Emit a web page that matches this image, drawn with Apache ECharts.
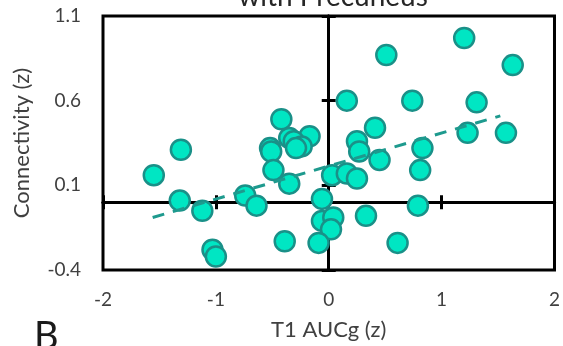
<!DOCTYPE html>
<html>
<head>
<meta charset="utf-8">
<script src="https://cdn.jsdelivr.net/npm/echarts@6/dist/echarts.min.js"></script>
<style>
html,body{margin:0;padding:0;background:#fff;}
#chart{width:563px;height:346px;}
</style>
</head>
<body>
<div id="chart"></div>
<script>
var titleText = 'with Precuneus';
var panelLabel = 'B';
var xName = 'T1 AUCg (z)';
var yName = 'Connectivity (z)';
var xTicks = [-2, -1, 0, 1, 2];
var yTicks = [-0.4, 0.1, 0.6, 1.1];

var auc = [1.20, 0.51, 1.63, 0.16, 0.74, 1.31, -0.42, 0.41, 1.23, 1.57,
           -0.17, -0.35, -0.31, -0.24, -0.29, 0.25, 0.27, 0.83, -1.31, -0.52,
           -0.51, -0.49, 0.45, 0.81, 0.03, 0.16, 0.25, -0.35, -1.55, -1.32,
           -1.12, -0.74, -0.64, -0.06, 0.79, 0.33, -0.06, 0.04, 0.02, -0.39,
           -0.09, 0.61, -1.03, -1.00];
var conn = [0.97, 0.87, 0.81, 0.60, 0.60, 0.59, 0.49, 0.44, 0.41, 0.41,
            0.39, 0.38, 0.36, 0.33, 0.32, 0.36, 0.30, 0.32, 0.31, 0.32,
            0.30, 0.19, 0.25, 0.19, 0.16, 0.17, 0.14, 0.11, 0.16, 0.01,
            -0.05, 0.04, -0.02, 0.02, -0.02, -0.08, -0.11, -0.09, -0.16, -0.23,
            -0.24, -0.24, -0.28, -0.32];
var trendX = [-1.56, 1.52];
var trendY = [-0.09, 0.51];

var pts = auc.map(function (v, i) { return [v, conn[i]]; });
var trend = trendX.map(function (v, i) { return [v, trendY[i]]; });

var FONT = 'Lato, "Open Sans", sans-serif';
var xMin = xTicks[0], xMax = xTicks[xTicks.length - 1];
var yMin = yTicks[0], yMax = yTicks[yTicks.length - 1];

function crossAxis(dim, inside) {
  var a = {
    type: 'value', min: dim === 'x' ? xMin : yMin, max: dim === 'x' ? xMax : yMax,
    interval: dim === 'x' ? 1 : 0.5,
    axisLine: { show: true, onZero: true, onZeroAxisIndex: 0, lineStyle: { color: '#000', width: 3 } },
    axisTick: { show: true, inside: inside, length: 7, lineStyle: { color: '#000', width: 3 } },
    axisLabel: { show: false },
    splitLine: { show: false }
  };
  a.position = dim === 'x' ? 'bottom' : 'left';
  return a;
}

var chart = echarts.init(document.getElementById('chart'), null, { renderer: 'canvas' });
chart.setOption({
  animation: false,
  backgroundColor: '#fff',
  grid: { left: 103, right: 8, top: 16, bottom: 75, show: true, borderColor: '#000', borderWidth: 3, backgroundColor: 'transparent' },
  xAxis: [
    {
      type: 'value', min: xMin, max: xMax, interval: 1, position: 'bottom',
      name: xName, nameLocation: 'middle', nameGap: 49,
      nameTextStyle: { fontFamily: FONT, fontSize: 22, color: '#404040' },
      axisLine: { show: false, onZero: false },
      axisTick: { show: false },
      axisLabel: { fontFamily: FONT, fontSize: 19, color: '#404040', margin: 20, formatter: function (v) { return String(Math.round(v)); } },
      splitLine: { show: false }
    },
    crossAxis('x', false),
    crossAxis('x', true)
  ],
  yAxis: [
    {
      type: 'value', min: yMin, max: yMax, interval: 0.5, position: 'left',
      name: yName, nameLocation: 'middle', nameGap: 70, nameRotate: 90,
      nameTextStyle: { fontFamily: FONT, fontSize: 22, color: '#404040' },
      axisLine: { show: false, onZero: false },
      axisTick: { show: false },
      axisLabel: { fontFamily: FONT, fontSize: 19, color: '#404040', margin: 22, formatter: function (v) { return v.toFixed(1); } },
      splitLine: { show: false }
    },
    crossAxis('y', false),
    crossAxis('y', true)
  ],
  graphic: [
    { type: 'text', x: 333, y: 11, style: { text: titleText, font: '28px ' + FONT, fill: '#262626', align: 'center', verticalAlign: 'bottom' } },
    { type: 'text', x: 34, y: 318, style: { text: panelLabel, font: '38px ' + FONT, fill: '#1a1a1a', align: 'left', verticalAlign: 'top' } }
  ],
  series: [
    {
      type: 'scatter', data: pts, symbol: 'circle', symbolSize: 20, z: 3,
      itemStyle: { color: '#00E6C3', borderColor: '#1A9088', borderWidth: 2.5, opacity: 1 }
    },
    {
      type: 'line', data: trend, showSymbol: false, symbol: 'none', z: 4,
      lineStyle: { color: '#1E9A8E', width: 3, type: [12, 9] }
    }
  ]
});
</script>
</body>
</html>
